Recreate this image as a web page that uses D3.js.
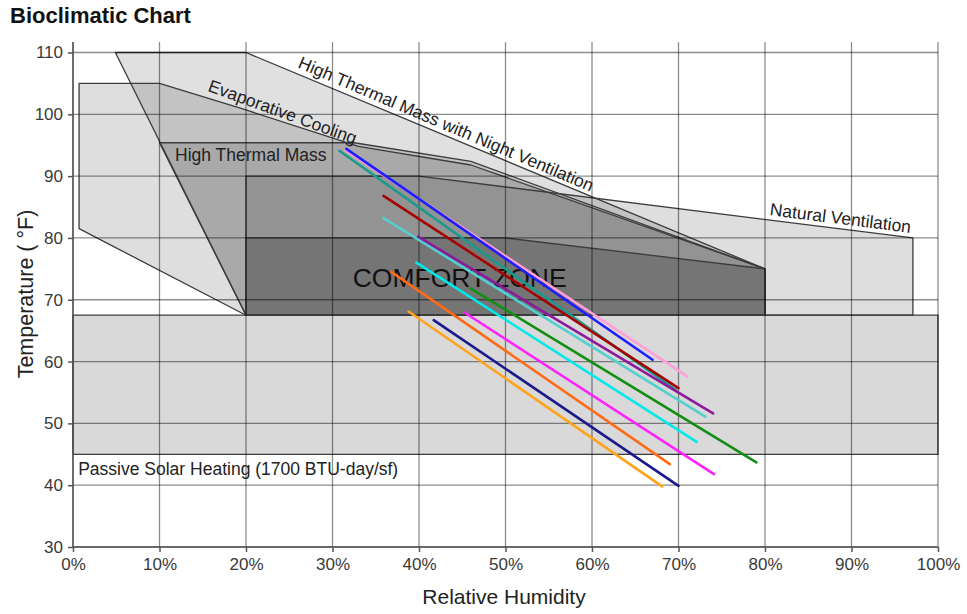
<!DOCTYPE html>
<html>
<head>
<meta charset="utf-8">
<script src="https://cdn.jsdelivr.net/npm/d3@7/dist/d3.min.js"></script>
<style>
  body { margin: 0; background: #fff; }
  svg { font-family: "Liberation Sans", Arial, Helvetica, sans-serif; }
</style>
</head>
<body>
<div id="chart"></div>
<script>
// axis ticks
var rhTicks = [0, 10, 20, 30, 40, 50, 60, 70, 80, 90, 100];
var tempTicks = [30, 40, 50, 60, 70, 80, 90, 100, 110];

// zones, [relative humidity %, temperature F]
var zoneSolar = [[0, 45], [100, 45], [100, 67.5], [0, 67.5]];
var zoneNightVent = [[4.9, 110], [20, 110], [80, 75], [80, 67.5], [20, 67.5]];
var zoneEvap = [[0.7, 105], [10, 105], [20, 100.7], [33, 94.8], [46, 91.8], [80, 75], [80, 67.5], [20, 67.5], [0.7, 81.5]];
var zoneNatVent = [[20, 67.5], [20, 90], [40, 90], [97.1, 80], [97.1, 67.5]];
var zoneMass = [[10, 95.4], [32.5, 95.4], [46, 92.4], [80, 75], [80, 67.5], [20, 67.5]];
var zoneComfort = [[20, 67.5], [20, 80], [50, 80], [80, 75], [80, 67.5]];

// climate lines: start / end [rh, temp]
var lineColors = ["#ff9fd8", "#1e1eff", "#1a9a8c", "#a80000", "#52cfcf", "#8c1a9c", "#00eaea", "#128f12", "#ff6a14", "#ff22ff", "#1a1a8c", "#ffa31a"];
var lineStart = [[31.5, 94.2], [31.6, 94.4], [30.8, 94.1], [35.9, 86.8], [35.9, 83.2], [39.9, 80.2], [39.7, 76.0], [46.0, 71.8], [36.8, 74.5], [45.3, 67.9], [41.7, 66.7], [38.8, 68.1]];
var lineEnd = [[71.0, 57.6], [67.0, 60.3], [69.7, 55.4], [70.0, 55.7], [73.1, 51.1], [74.0, 51.6], [72.1, 47.0], [79.0, 43.7], [69.0, 43.4], [74.1, 41.8], [70.0, 39.9], [68.1, 39.8]];

var width = 967, height = 614;
var margin = {top: 42, right: 29, bottom: 67, left: 73};

var svg = d3.select("#chart")
    .append("svg")
    .attr("width", width)
    .attr("height", height);

var x = d3.scaleLinear().domain([0, 100]).range([margin.left, width - margin.right]);
var y = d3.scaleLinear().domain([30, 111.7]).range([height - margin.bottom, margin.top]);

var line = d3.line().x(function(d) { return x(d[0]); }).y(function(d) { return y(d[1]); });

// title
svg.append("text")
    .attr("x", 10).attr("y", 23)
    .style("font-size", "22px").style("font-weight", "bold").style("fill", "#111")
    .text("Bioclimatic Chart");

// zones (stacked translucent greys)
var zones = [
  {pts: zoneSolar, a: 0.15},
  {pts: zoneNightVent, a: 0.12},
  {pts: zoneEvap, a: 0.13},
  {pts: zoneNatVent, a: 0.13},
  {pts: zoneMass, a: 0.13},
  {pts: zoneComfort, a: 0.2}
];
var gz = svg.append("g").attr("class", "zones");
gz.selectAll("path.fill")
    .data(zones)
  .enter().append("path")
    .attr("class", "fill")
    .attr("d", function(d) { return line(d.pts) + "Z"; })
    .style("fill", "#000")
    .style("fill-opacity", function(d) { return d.a; })
    .style("stroke", "none");

// grid
var grid = svg.append("g").attr("class", "grid");
grid.selectAll("line.h")
    .data(tempTicks)
  .enter().append("line")
    .attr("x1", x(0)).attr("x2", x(100))
    .attr("y1", function(d) { return y(d); }).attr("y2", function(d) { return y(d); })
    .style("stroke", "#000").style("stroke-opacity", 0.45).style("stroke-width", 1.3);
grid.selectAll("line.v")
    .data(rhTicks)
  .enter().append("line")
    .attr("y1", y(30)).attr("y2", margin.top)
    .attr("x1", function(d) { return x(d); }).attr("x2", function(d) { return x(d); })
    .style("stroke", "#000").style("stroke-opacity", 0.45).style("stroke-width", 1.3);

// zone outlines
gz.selectAll("path.edge")
    .data(zones)
  .enter().append("path")
    .attr("class", "edge")
    .attr("d", function(d) { return line(d.pts) + "Z"; })
    .style("fill", "none")
    .style("stroke", "#3c3c3c")
    .style("stroke-width", 1.3)
    .style("stroke-linejoin", "round");

// axes
var xAxis = d3.axisBottom(x).tickValues(rhTicks).tickSize(5).tickPadding(6)
    .tickFormat(function(d) { return d + "%"; });
var yAxis = d3.axisLeft(y).tickValues(tempTicks).tickSize(5).tickPadding(5);

var gx = svg.append("g").attr("transform", "translate(0," + y(30) + ")").call(xAxis);
var gy = svg.append("g").attr("transform", "translate(" + x(0) + ",0)").call(yAxis);
[gx, gy].forEach(function(g) {
  g.select(".domain").style("stroke", "#555").style("stroke-width", 1.5);
  g.selectAll(".tick line").style("stroke", "#555").style("stroke-width", 1.5);
  g.selectAll(".tick text").style("font-size", "17px").style("fill", "#3a3a3a")
      .style("font-family", "'Liberation Sans', Arial, sans-serif");
});
gx.select(".domain").attr("d", "M" + x(0) + ",0H" + x(100));
gy.select(".domain").attr("d", "M0," + y(30) + "V" + margin.top);

// axis titles
svg.append("text")
    .attr("x", 504).attr("y", 604)
    .attr("text-anchor", "middle")
    .style("font-size", "21px").style("fill", "#222")
    .text("Relative Humidity");
svg.append("text")
    .attr("transform", "translate(33,294) rotate(-90)")
    .attr("text-anchor", "middle")
    .style("font-size", "21.5px").style("fill", "#222")
    .text("Temperature ( °F)");

// zone labels
var labels = svg.append("g").attr("class", "labels").style("fill", "#222").style("font-size", "17.5px");
labels.append("text")
    .attr("x", x(11.8)).attr("y", y(92.5))
    .text("High Thermal Mass");
labels.append("text")
    .attr("transform", "translate(" + x(15.5) + "," + y(103.8) + ") rotate(20)")
    .text("Evaporative Cooling");
labels.append("text")
    .attr("transform", "translate(" + x(25.9) + "," + y(107.6) + ") rotate(23)")
    .text("High Thermal Mass with Night Ventilation");
labels.append("text")
    .attr("transform", "translate(" + x(80.5) + "," + y(83.7) + ") rotate(7.2)")
    .text("Natural Ventilation");
labels.append("text")
    .attr("x", x(0.6)).attr("y", y(41.65))
    .text("Passive Solar Heating (1700 BTU-day/sf)");
svg.append("text")
    .attr("x", x(44.7)).attr("y", y(72.1))
    .attr("text-anchor", "middle")
    .style("font-size", "26.5px").style("fill", "#111")
    .text("COMFORT ZONE");

// climate lines
svg.append("g").attr("class", "climate")
    .selectAll("path")
    .data(lineStart)
  .enter().append("path")
    .attr("d", function(d, i) { return line([d, lineEnd[i]]); })
    .style("fill", "none")
    .style("stroke", function(d, i) { return lineColors[i]; })
    .style("stroke-width", 2.6)
    .style("stroke-linecap", "round");
</script>
</body>
</html>
